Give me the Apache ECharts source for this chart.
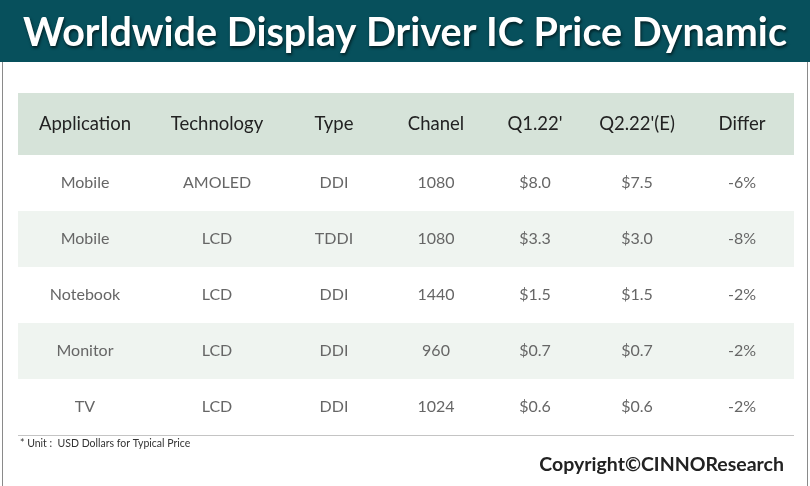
<!DOCTYPE html>
<html>
<head>
<meta charset="utf-8">
<script src="https://cdn.jsdelivr.net/npm/echarts@6/dist/echarts.min.js"></script>
<style>html,body{margin:0;padding:0;background:#fff}#c{width:810px;height:486px}</style>
</head>
<body>
<div id="c"></div>
<script>
const title = 'Worldwide Display Driver IC Price Dynamic';
const headers = ['Application', 'Technology', 'Type', 'Chanel', "Q1.22'", "Q2.22'(E)", 'Differ'];
const applications = ['Mobile', 'Mobile', 'Notebook', 'Monitor', 'TV'];
const technologies = ['AMOLED', 'LCD', 'LCD', 'LCD', 'LCD'];
const types = ['DDI', 'TDDI', 'DDI', 'DDI', 'DDI'];
const channels = [1080, 1080, 1440, 960, 1024];
const q1Prices = [8.0, 3.3, 1.5, 0.7, 0.6];
const q2Prices = [7.5, 3.0, 1.5, 0.7, 0.6];
const differs = [-6, -8, -2, -2, -2];
const footnote = '* Unit :  USD Dollars for Typical Price';
const copyright = 'Copyright©CINNOResearch';

// layout (not data)
const colWidths = [134, 130, 104, 100, 98, 106, 104];
const colStarts = [];
colWidths.reduce((acc, w) => { colStarts.push(acc); return acc + w; }, 0);
const totalW = colWidths.reduce((a, b) => a + b, 0);

const rowLabels = applications.map((_, i) => 'r' + i);
const bodyCells = [];
applications.forEach((app, r) => {
  const vals = [app, technologies[r], types[r], String(channels[r]),
    '$' + q1Prices[r].toFixed(1), '$' + q2Prices[r].toFixed(1), differs[r] + '%'];
  vals.forEach((v, c) => bodyCells.push([colStarts[c], r, c, v]));
});
const headerCells = headers.map((h, c) => [colStarts[c], 0, c, h]);

function makeRender(isHeader) {
  return function (params, api) {
    const x0 = api.value(0);
    const c = api.value(2);
    const r = api.value(1);
    const w = colWidths[c];
    const p0 = api.coord([x0, r]);
    const p1 = api.coord([x0 + w, r]);
    const h = api.size([0, 1])[1];
    const text = (isHeader ? headerCells : bodyCells)[params.dataIndex][3];
    let fill = null;
    if (isHeader) fill = '#d6e3d9';
    else if (r % 2 === 1) fill = '#eff4f0';
    const children = [];
    if (fill) {
      children.push({
        type: 'rect',
        shape: { x: p0[0], y: p0[1] - h / 2, width: p1[0] - p0[0], height: h },
        style: { fill: fill }
      });
    }
    children.push({
      type: 'text',
      style: {
        x: (p0[0] + p1[0]) / 2, y: p0[1],
        text: text,
        align: 'center', verticalAlign: 'middle',
        fontFamily: 'Lato', fontSize: isHeader ? 18.5 : 16,
        fill: isHeader ? '#222' : '#666'
      }
    });
    return { type: 'group', children: children };
  };
}

const chart = echarts.init(document.getElementById('c'));
chart.setOption({
  animation: false,
  grid: [
    { left: 18, width: totalW, top: 93, height: 62 },
    { left: 18, width: totalW, top: 155, height: 280 }
  ],
  xAxis: [
    { gridIndex: 0, type: 'value', min: 0, max: totalW, show: false },
    { gridIndex: 1, type: 'value', min: 0, max: totalW, show: false }
  ],
  yAxis: [
    { gridIndex: 0, type: 'category', data: ['h'], show: false, inverse: true },
    { gridIndex: 1, type: 'category', data: rowLabels, show: false, inverse: true }
  ],
  series: [
    { type: 'custom', xAxisIndex: 0, yAxisIndex: 0, data: headerCells.map(d => d.slice(0, 3)), renderItem: makeRender(true) },
    { type: 'custom', xAxisIndex: 1, yAxisIndex: 1, data: bodyCells.map(d => d.slice(0, 3)), renderItem: makeRender(false) }
  ],
  graphic: [
    { type: 'rect', shape: { x: 0, y: 0, width: 810, height: 62 }, style: { fill: '#07505c' } },
    { type: 'line', shape: { x1: 2.5, y1: 62, x2: 2.5, y2: 486 }, style: { stroke: '#8a8a8a', lineWidth: 1 } },
    { type: 'line', shape: { x1: 807.5, y1: 62, x2: 807.5, y2: 486 }, style: { stroke: '#8a8a8a', lineWidth: 1 } },
    {
      type: 'text', x: 405, y: 33,
      style: {
        text: title, align: 'center', verticalAlign: 'middle',
        fontFamily: 'Lato', fontWeight: 'bold', fontSize: 39.5, fill: '#ffffff',
        textShadowColor: 'rgba(0,0,0,0.6)', textShadowBlur: 3, textShadowOffsetX: 1, textShadowOffsetY: 2
      }
    },
    { type: 'line', shape: { x1: 18, y1: 435.5, x2: 18 + totalW, y2: 435.5 }, style: { stroke: '#c4c4c4', lineWidth: 1 } },
    {
      type: 'text', x: 20, y: 444,
      style: { text: footnote, align: 'left', verticalAlign: 'middle', fontFamily: 'Lato', fontSize: 10.5, fill: '#333' }
    },
    {
      type: 'text', x: 784, y: 465,
      style: { text: copyright, align: 'right', verticalAlign: 'middle', fontFamily: 'Lato', fontWeight: 'bold', fontSize: 19.5, fill: '#222' }
    }
  ]
});
</script>
</body>
</html>
